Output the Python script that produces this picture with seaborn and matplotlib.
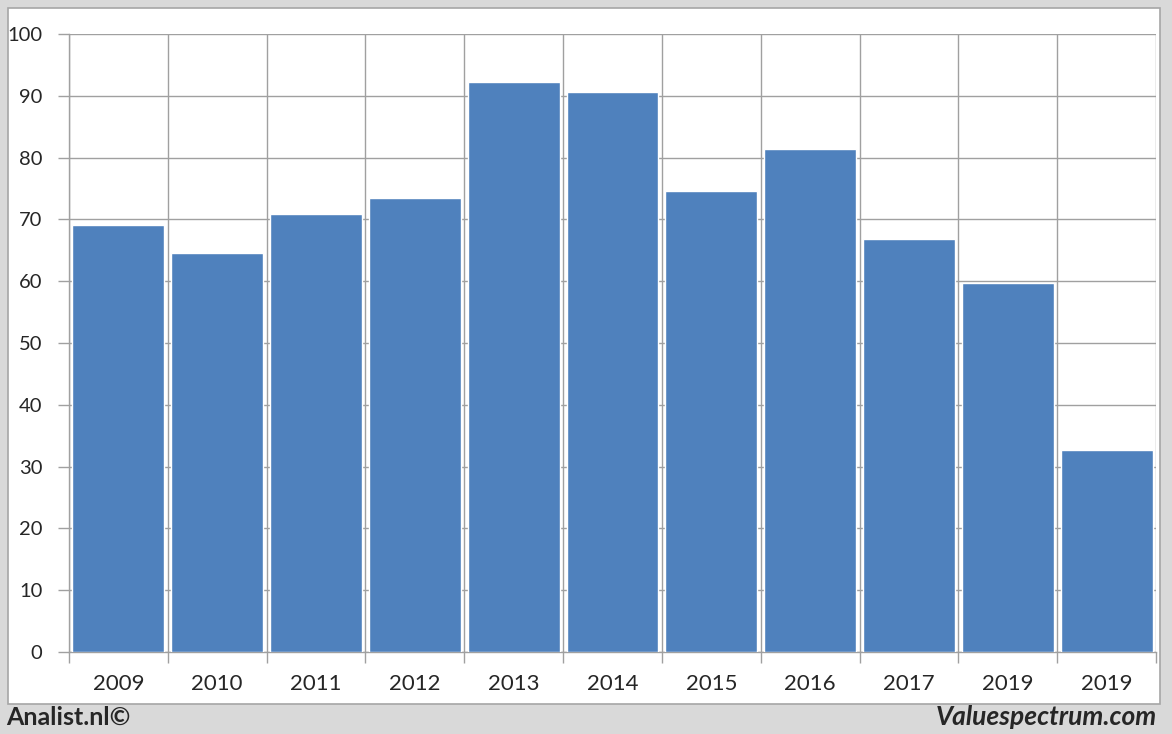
import numpy as np
import pandas as pd
import seaborn as sns
import matplotlib.pyplot as plt
from matplotlib.patches import Rectangle

# values
years = ['2009', '2010', '2011', '2012', '2013', '2014', '2015', '2016', '2017', '2019', '2019']
values = [69.1, 64.6, 70.9, 73.5, 92.2, 90.6, 74.6, 81.4, 66.8, 59.7, 32.7]

df = pd.DataFrame({'pos': range(len(years)), 'value': values})

sns.set_style('white')
plt.rcParams['font.family'] = ['Lato', 'DejaVu Sans']

fig = plt.figure(figsize=(11.72, 7.34), dpi=100)
fig.patch.set_facecolor('#d9d9d9')

# white chart panel, kept behind the axes
fig.patches.append(Rectangle((8 / 1172, 1 - 704 / 734), 1152 / 1172, 696 / 734,
                             transform=fig.transFigure, facecolor='white',
                             edgecolor='#a6a6a6', linewidth=1.2, zorder=-10))

ax = fig.add_axes([69 / 1172, 1 - 652 / 734, 1087 / 1172, 618 / 734])
ax.set_facecolor('none')

sns.barplot(data=df, x='pos', y='value', color='#4f81bd', saturation=1,
            width=0.93, ax=ax, zorder=3)

ax.set_xlim(-0.5, len(years) - 0.5)
ax.set_ylim(0, 100)
ax.set_yticks(np.arange(0, 101, 10))
ax.set_xticks(range(len(years)))
ax.set_xticklabels(years)
ax.set_xticks(np.arange(-0.5, len(years), 1), minor=True)
ax.set_xlabel('')
ax.set_ylabel('')

ax.grid(axis='y', which='major', color='#a0a0a0', linewidth=1, zorder=0)
ax.grid(axis='x', which='minor', color='#a0a0a0', linewidth=1, zorder=0)
ax.grid(axis='x', which='major', visible=False)

ax.tick_params(axis='x', which='major', length=0, pad=16, labelsize=16)
ax.tick_params(axis='x', which='minor', length=8, color='#a0a0a0', width=1, bottom=True)
ax.tick_params(axis='y', length=8, color='#a0a0a0', width=1, pad=11, labelsize=14.5, left=True)

for s in ['top', 'right']:
    ax.spines[s].set_visible(False)
for s in ['left', 'bottom']:
    ax.spines[s].set_color('#a0a0a0')
    ax.spines[s].set_linewidth(1)

fig.text(6 / 1172, 1 - 717 / 734, 'Analist.nl©', fontsize=18, fontweight='bold',
         ha='left', va='center')
fig.text(1157 / 1172, 1 - 717 / 734, 'Valuespectrum.com', fontsize=19,
         fontweight='bold', fontstyle='italic', ha='right', va='center')

fig.savefig('out.png', dpi=100, facecolor=fig.get_facecolor())
